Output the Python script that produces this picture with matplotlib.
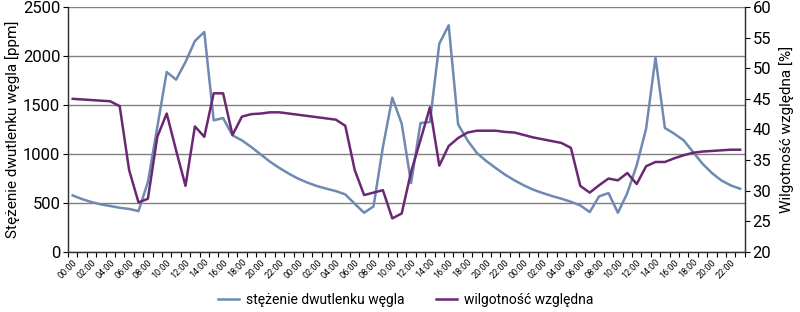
import matplotlib
matplotlib.use("Agg")
import matplotlib.pyplot as plt
import numpy as np

hour_labels = ["00:00", "02:00", "04:00", "06:00", "08:00", "10:00",
               "12:00", "14:00", "16:00", "18:00", "20:00", "22:00"]
n_days = 3

co2 = [578, 540, 510, 486, 470, 452, 440, 418, 714, 1275, 1836, 1758,
       1938, 2152, 2244, 1343, 1367, 1190, 1139, 1071, 996, 921, 857, 799,
       748, 707, 673, 646, 622, 588, 493, 401, 466, 1071, 1574, 1309,
       704, 1316, 1326, 2125, 2312, 1302, 1139, 1010, 928, 857, 789, 731,
       680, 636, 602, 571, 544, 513, 476, 408, 568, 602, 401, 602,
       884, 1258, 1982, 1265, 1207, 1139, 1020, 901, 806, 731, 680, 646]

rh = [45.0, 44.9, 44.8, 44.7, 44.6, 43.8, 33.4, 28.1, 28.7, 38.8, 42.6, 36.6,
      30.8, 40.5, 38.8, 45.9, 45.9, 39.1, 42.1, 42.5, 42.6, 42.8, 42.8, 42.6,
      42.4, 42.2, 42.0, 41.8, 41.6, 40.6, 33.4, 29.3, 29.7, 30.1, 25.5, 26.3,
      33.1, 38.3, 43.6, 34.1, 37.3, 38.6, 39.5, 39.8, 39.8, 39.8, 39.6, 39.5,
      39.1, 38.7, 38.4, 38.1, 37.8, 37.0, 30.8, 29.7, 30.9, 32.0, 31.7, 32.9,
      31.1, 34.0, 34.7, 34.7, 35.3, 35.8, 36.2, 36.4, 36.5, 36.6, 36.7, 36.7]

label_co2 = "stężenie dwutlenku węgla"
label_rh = "wilgotność względna"
ylabel_left = "Stężenie dwutlenku węgla [ppm]"
ylabel_right = "Wilgotność względna [%]"

blue = "#6f89b2"
purple = "#6b2872"

plt.rcParams["font.family"] = ["Roboto", "DejaVu Sans"]

fig = plt.figure(figsize=(8.0, 3.12), dpi=100)
ax = fig.add_axes([0.085, 0.192, 0.846, 0.786])
ax2 = ax.twinx()

x = np.arange(len(co2))
l1, = ax.plot(x, co2, color=blue, lw=1.8, zorder=3)
l2, = ax2.plot(x, rh, color=purple, lw=1.8, zorder=3)

ax.set_ylim(0, 2500)
ax.set_yticks(np.arange(0, 2501, 500))
ax2.set_ylim(20, 60)
ax2.set_yticks(np.arange(20, 61, 5))
ax.set_xlim(-0.5, len(co2) - 0.5)

ax.yaxis.grid(True, color="#808080", lw=1.0)
ax.set_axisbelow(True)

# category boundaries as ticks, labels at every second category centre
ax.set_xticks(np.arange(len(co2) + 1) - 0.5)
ax.set_xticklabels([])
ax.tick_params(axis="x", which="major", length=3.5, width=0.8, direction="out")
lab_pos = np.arange(0, len(co2), 2)
ax.set_xticks(lab_pos, minor=True)
ax.set_xticklabels(hour_labels * n_days, minor=True, rotation=45,
                   ha="right", va="top", rotation_mode="anchor", fontsize=6.5)
ax.tick_params(axis="x", which="minor", length=0, pad=4)

ax.tick_params(axis="y", length=3.5, width=0.8, labelsize=12, pad=2)
ax2.tick_params(axis="y", length=3.5, width=0.8, labelsize=12, pad=2)

for a in (ax, ax2):
    a.spines["top"].set_visible(False)
    for s in ("left", "right", "bottom"):
        a.spines[s].set_color("#333333")
        a.spines[s].set_linewidth(0.9)

ax.set_ylabel(ylabel_left, fontsize=11, labelpad=2)
ax2.set_ylabel(ylabel_right, fontsize=11, rotation=90, labelpad=6)

fig.legend([l1, l2], [label_co2, label_rh], loc="center",
           bbox_to_anchor=(0.507, 0.04), ncol=2, frameon=False,
           fontsize=10, handlelength=1.5, handletextpad=0.5,
           columnspacing=2.3)

fig.savefig("out.png", dpi=100)
